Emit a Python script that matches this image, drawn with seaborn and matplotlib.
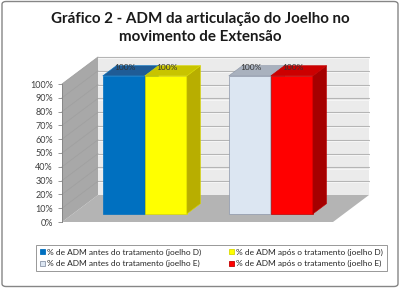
import matplotlib
matplotlib.use("Agg")
import matplotlib.pyplot as plt
import seaborn as sns
import pandas as pd
from matplotlib.patches import Polygon, Patch, FancyBboxPatch, Rectangle
from matplotlib.lines import Line2D
from matplotlib.ticker import PercentFormatter

# ---- data ----
joelhos = ["Joelho D", "Joelho E"]
momentos = ["antes", "após"]
valores_antes = [100, 100]
valores_apos = [100, 100]
series_labels = [
    "% de ADM antes do tratamento (joelho D)",
    "% de ADM após o tratamento (joelho D)",
    "% de ADM antes do tratamento (joelho E)",
    "% de ADM após o tratamento (joelho E)",
]
title = "Gráfico 2 - ADM da articulação do Joelho no\nmovimento de Extensão"

# colours per bar, in order left to right (antes D, após D, antes E, após E)
front_cols = ["#0070C0", "#FFFF00", "#DCE6F2", "#FF0000"]
top_cols = ["#1F5C96", "#C8C400", "#A9B1BE", "#CC0000"]
side_cols = ["#005A9A", "#B8AE00", "#B4BCC8", "#A50000"]
edge_cols = ["#0070C0", "#D8D800", "#8C96A8", "#C00000"]

df = pd.DataFrame({
    "joelho": joelhos * 2,
    "momento": [momentos[0]] * 2 + [momentos[1]] * 2,
    "valor": valores_antes + valores_apos,
})

sns.set_theme(style="white")
plt.rcParams["font.family"] = ["Lato", "DejaVu Sans"]

W, H = 400, 288
fig = plt.figure(figsize=(W / 100, H / 100), dpi=100)
fig.patch.set_facecolor("white")

ax_l, ax_b, ax_w, ax_h = 62, 66, 271, 138
ax = fig.add_axes([ax_l / W, ax_b / H, ax_w / W, ax_h / H])
ax.set_facecolor("none")

sns.barplot(data=df, x="joelho", y="valor", hue="momento", order=joelhos,
            hue_order=momentos, width=0.667, gap=0, ax=ax, legend=False,
            saturation=1, errorbar=None)
bars = sorted([p for p in ax.patches if isinstance(p, Rectangle)], key=lambda p: p.get_x())

x0, x1 = -0.571, 1.579
ax.set_xlim(x0, x1)
ax.set_ylim(0, 100)

# pixel -> data scales
sx = (x1 - x0) / ax_w
sy = 100 / ax_h
Dx, Dy = 36 * sx, 27 * sy          # full depth of the 3D box
f_front, f_depth = 0.3, 0.38       # bar front position and bar depth

wall_kw = dict(closed=True, clip_on=False, linewidth=0)
# back wall
ax.add_patch(Polygon([(x0 + Dx, Dy), (x1 + Dx, Dy), (x1 + Dx, 100 + Dy), (x0 + Dx, 100 + Dy)],
                     facecolor="#EBEBEB", zorder=0.5, **wall_kw))
# floor
ax.add_patch(Polygon([(x0, 0), (x1, 0), (x1 + Dx, Dy), (x0 + Dx, Dy)],
                     facecolor="#B4B4B4", zorder=0.6, **wall_kw))
# left wall
ax.add_patch(Polygon([(x0, 0), (x0 + Dx, Dy), (x0 + Dx, 100 + Dy), (x0, 100)],
                     facecolor="#A8A8A8", zorder=0.7, **wall_kw))
ticks = list(range(0, 101, 10))
for t in ticks[1:]:
    ax.add_line(Line2D([x0 + Dx, x1 + Dx], [t + Dy, t + Dy], color="#B5B5B5",
                       lw=0.8, zorder=0.55, clip_on=False))
    ax.add_line(Line2D([x0 + Dx, x1 + Dx], [t + Dy - 0.9, t + Dy - 0.9], color="#F8F8F8",
                       lw=0.6, zorder=0.55, clip_on=False))
    ax.add_line(Line2D([x0, x0 + Dx], [t, t + Dy], color="#A0A0A0",
                       lw=0.6, zorder=0.75, clip_on=False))

# bars with pseudo-3D faces
for i, p in enumerate(bars):
    xl = p.get_x() + f_front * Dx
    w = p.get_width()
    h = p.get_height()
    yb = f_front * Dy
    yt = yb + h
    bdx, bdy = f_depth * Dx, f_depth * Dy
    p.set_x(xl)
    p.set_y(yb)
    p.set_facecolor(front_cols[i])
    p.set_edgecolor(edge_cols[i])
    p.set_linewidth(0.5)
    p.set_zorder(3 + i * 0.1)
    p.set_clip_on(False)
    xr = xl + w
    ax.add_patch(Polygon([(xr, yb), (xr + bdx, yb + bdy), (xr + bdx, yt + bdy), (xr, yt)],
                         closed=True, facecolor=side_cols[i], edgecolor=edge_cols[i],
                         linewidth=0.4, zorder=3 + i * 0.1 + 0.05, clip_on=False))
    ax.add_patch(Polygon([(xl, yt), (xr, yt), (xr + bdx, yt + bdy), (xl + bdx, yt + bdy)],
                         closed=True, facecolor=top_cols[i], edgecolor=edge_cols[i],
                         linewidth=0.4, zorder=3 + i * 0.1 + 0.06, clip_on=False))
    ax.text(xl + w / 2 + 0.1 * bdx, yt + 0.78 * bdy, f"{h:.0f}%", ha="center", va="center",
            fontsize=6, color="#333333", zorder=4, clip_on=False)

# axes styling
for s in ["top", "right", "bottom"]:
    ax.spines[s].set_visible(False)
ax.spines["left"].set_color("#868686")
ax.spines["left"].set_linewidth(0.7)
ax.set_yticks(ticks)
ax.yaxis.set_major_formatter(PercentFormatter(100, decimals=0))
ax.tick_params(axis="y", left=True, length=3, width=0.6, color="#868686",
               pad=3.5, labelsize=6.5, labelcolor="#404040")
ax.set_xticks([])
ax.set_xlabel("")
ax.set_ylabel("")

# title
fig.text(0.5, 1 - 28 / H, title, ha="center", va="center", fontsize=10.9,
         fontweight="bold", linespacing=1.3, color="#1a1a1a")

# legend
handles = [Patch(facecolor=front_cols[i], edgecolor=edge_cols[i], linewidth=0.6) for i in range(4)]
order = [0, 2, 1, 3]
leg = fig.legend([handles[i] for i in order], [series_labels[i] for i in order],
                 ncol=2, loc="center", mode="expand",
                 bbox_to_anchor=(36 / W, (H - 273) / H, 351 / W, 30 / H),
                 fontsize=6, frameon=True, fancybox=False, edgecolor="#7F7F7F",
                 handlelength=0.6, handleheight=0.6, handletextpad=0.3,
                 borderpad=0.45, labelspacing=0.55, columnspacing=1.0, borderaxespad=0)
leg.get_frame().set_linewidth(0.7)
for t in leg.get_texts():
    t.set_color("#262626")

# outer chart border
fig.patches.append(FancyBboxPatch((2 / W, 1.5 / H), 396 / W, 285 / H,
                                  boxstyle="round,pad=0,rounding_size=0.01",
                                  transform=fig.transFigure, facecolor="none",
                                  edgecolor="#868686", linewidth=1))

fig.savefig("out.png", dpi=100)
